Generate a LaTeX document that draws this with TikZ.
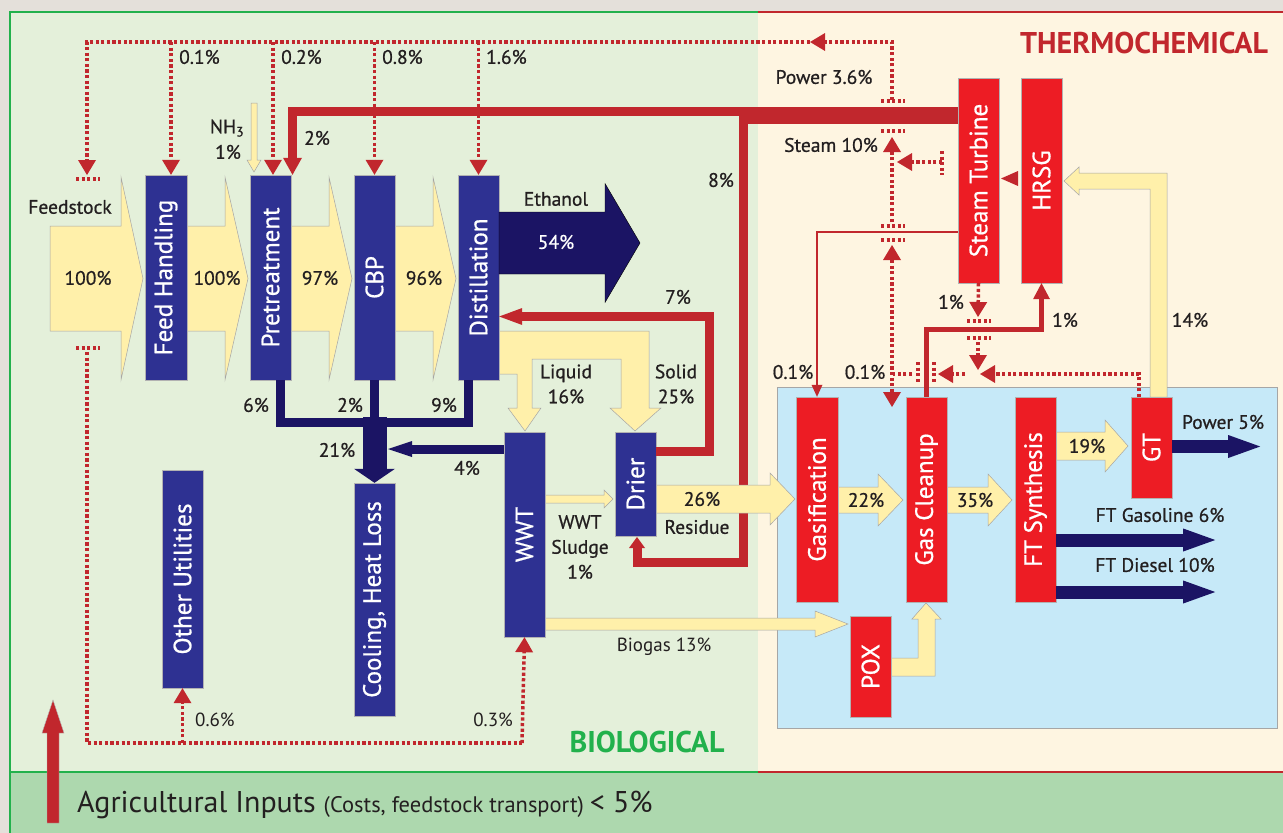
\documentclass[tikz,border=0pt]{standalone}
\usepackage{fontspec}
\setmainfont{PT Sans}
\newfontfamily\semi{PT Sans}[FakeBold=0.7]
\usetikzlibrary{arrows.meta, calc}

\definecolor{outbg}{HTML}{E4E0DA}
\definecolor{biobg}{HTML}{E4F0DA}
\definecolor{thermobg}{HTML}{FEF5E1}
\definecolor{agribg}{HTML}{ADD8AE}
\definecolor{boxblue}{HTML}{C6E9F8}
\definecolor{bioblue}{HTML}{2E3192}
\definecolor{navy}{HTML}{1B1464}
\definecolor{tred}{HTML}{ED1C24}
\definecolor{dred}{HTML}{C1272D}
\definecolor{flowyel}{HTML}{FFF0AA}
\definecolor{biogreen}{HTML}{22B14C}
\definecolor{txt}{HTML}{231F20}

\newcommand{\fs}[1]{\fontsize{#1}{#1}\selectfont}
% horizontal block arrow: x0, x1 (head base), tip, y centre, half body, half head
\newcommand{\flowarrow}[7][flow]{%
  \filldraw[#1] (#2,#5-#6) -- (#3,#5-#6) -- (#3,#5-#7) -- (#4,#5) -- (#3,#5+#7) -- (#3,#5+#6) -- (#2,#5+#6) -- cycle;}

\tikzset{
  dtip/.tip={Triangle[width=18pt,length=15pt,line width=0pt]},
  stip/.tip={Triangle[width=11pt,length=12pt,line width=0pt]}
}

\begin{document}
\begin{tikzpicture}[x=1pt, y=-1pt,
  biobox/.style={fill=bioblue, draw=gray!60, line width=0.4pt, inner sep=0pt, text=white, font=\semi\fs{25}},
  thermobox/.style={biobox, fill=tred},
  flow/.style={fill=flowyel, draw=gray!70, line width=0.5pt},
  lbl/.style={text=txt, font=\semi\fs{19.5}, inner sep=0pt, align=center},
  dotline/.style={dred, line width=3.5pt, dash pattern=on 3.2pt off 2.4pt},
  thickred/.style={dred, line width=9pt},
  navyline/.style={navy, line width=9pt}]
\useasboundingbox (0,0) rectangle (1283,833);

% regions
\fill[outbg] (0,0) rectangle (1283,833);
\fill[biobg] (10,12) rectangle (758,772);
\fill[thermobg] (758,12) rectangle (1283,772);
\fill[agribg] (10,772) rectangle (1283,833);
\draw[biogreen, line width=2.5pt] (10,833) -- (10,12) -- (758,12);
\draw[biogreen, line width=2.5pt] (10,772) -- (758,772);
\draw[dred, line width=2.5pt] (758,12) -- (1283,12);
\draw[dred, line width=2.5pt] (758,772) -- (1283,772);
\filldraw[fill=boxblue, draw=gray!70, line width=0.6pt] (777,387) rectangle (1277,728);

\node[font=\bfseries\fs{30}, text=dred, inner sep=0pt] (thermo) at (1144,43) {THERMOCHEMICAL};
\node[font=\bfseries\fs{30}, text=biogreen, inner sep=0pt] (bio) at (647,742) {BIOLOGICAL};

% yellow flows
\flowarrow{50}{121}{143}{278.5}{52.5}{101.5}
\flowarrow{187}{225}{248}{278.5}{52.5}{101.5}
\flowarrow{291}{329}{352}{278.5}{52.5}{101.5}
\flowarrow{395}{433}{456}{278.5}{52.5}{101.5}
\filldraw[flow] (499,331) -- (649,331) -- (649,408) -- (661,408) -- (635,431) -- (610,408) -- (621,408)
  -- (621,359) -- (532,359) -- (532,408) -- (541,408) -- (525,431) -- (508,408) -- (517,408) -- (517,374) -- (499,374) -- cycle;
\filldraw[flow] (251,103) -- (257,103) -- (257,160) -- (261,160) -- (254,172) -- (247,160) -- (251,160) -- cycle;

% red steam lines
\draw[thickred, -{Triangle[width=16pt,length=11pt,line width=0pt]}] (743.5,111.5) |- (637,562.5) -- (637,537);
\flowarrow{656}{770}{795}{499}{14}{26}
\flowarrow{545}{604}{613}{499}{4}{9}
\flowarrow{545}{815}{848}{624}{6}{13}
\flowarrow{838}{878}{903}{500}{13}{26}
\flowarrow{947}{988}{1012}{500}{13}{26}
\flowarrow{1056}{1105}{1128}{446}{14}{26}
\filldraw[flow] (891,658) -- (918,658) -- (918,619) -- (912,619) -- (926,603) -- (941,619) -- (935,619) -- (935,676) -- (891,676) -- cycle;
\filldraw[flow] (1150,397) -- (1150,189) -- (1079,189) -- (1079,195) -- (1064,181) -- (1079,167) -- (1079,173) -- (1167,173) -- (1167,397) -- cycle;

% blocks
\node[biobox, minimum width=42pt, minimum height=205pt] (feed) at (166,277.5) {\rotatebox{90}{Feed Handling}};
\node[biobox, minimum width=41pt, minimum height=205pt] (pre) at (270.5,277.5) {\rotatebox{90}{Pretreatment}};
\node[biobox, minimum width=41pt, minimum height=205pt] (cbp) at (374.5,277.5) {\rotatebox{90}{CBP}};
\node[biobox, minimum width=41pt, minimum height=205pt] (dist) at (478.5,277.5) {\rotatebox{90}{Distillation}};
\node[biobox, minimum width=41pt, minimum height=205pt] (wwt) at (524.5,534.5) {\rotatebox{90}{WWT}};
\node[biobox, minimum width=41pt, minimum height=104pt] (drier) at (635.5,484) {\rotatebox{90}{Drier}};
\node[biobox, minimum width=41pt, minimum height=233pt] (cool) at (374.5,599.5) {\rotatebox{90}{Cooling, Heat Loss}};
\node[biobox, minimum width=41pt, minimum height=218pt] (other) at (182.5,579) {\rotatebox{90}{Other Utilities}};
\node[thermobox, minimum width=42pt, minimum height=205pt] (gasif) at (817,499.5) {\rotatebox{90}{Gasification}};
\node[thermobox, minimum width=41pt, minimum height=205pt] (clean) at (926.5,499.5) {\rotatebox{90}{Gas Cleanup}};
\node[thermobox, minimum width=41pt, minimum height=205pt] (ftsyn) at (1035.5,499.5) {\rotatebox{90}{FT Synthesis}};
\node[thermobox, minimum width=41pt, minimum height=101pt] (gt) at (1151.5,447.5) {\rotatebox{90}{GT}};
\node[thermobox, minimum width=41pt, minimum height=101pt] (pox) at (870.5,666.5) {\rotatebox{90}{POX}};
\node[thermobox, minimum width=41pt, minimum height=205pt] (steam) at (978.5,180.5) {\rotatebox{90}{Steam Turbine}};
\node[thermobox, minimum width=41pt, minimum height=205pt] (hrsg) at (1041.5,180.5) {\rotatebox{90}{HRSG}};

% ethanol and losses
\flowarrow[fill=navy]{499}{605}{640}{243}{31}{59.5}
\draw[navyline] ([xshift=10pt]pre.south) |- (468.5,422) -- ([xshift=-10pt]dist.south);
\draw[navyline] (cbp.south) -- (374.5,422);
\draw[navy, line width=24pt, -{Triangle[width=41pt,length=14pt,line width=0pt]}] (374.5,417) -- (cool.north);
\coordinate (j4) at (388,449);
\draw[navyline, -{Triangle[width=16pt,length=24pt,line width=0pt]}] ([yshift=85.5pt]wwt.west) -- (j4);
\draw[navy, line width=13pt, -{Triangle[width=23pt,length=32pt,line width=0pt]}] ([yshift=1pt]gt.east) -- ++(88,0);
\draw[navy, line width=13pt, -{Triangle[width=23pt,length=32pt,line width=0pt]}] ([yshift=-40.5pt]ftsyn.east) -- ++(159,0);
\draw[navy, line width=13pt, -{Triangle[width=23pt,length=32pt,line width=0pt]}] ([yshift=-92.5pt]ftsyn.east) -- ++(159,0);

% steam to pretreatment and drier recycle
\fill[dred] (739,107) rectangle (steam.west |- 0,124);
\draw[thickred, -{Triangle[width=19pt,length=17pt,line width=0pt]}] (744,111.5) -| ([xshift=22pt]pre.north);
\coordinate (r7) at (709.5,316.5);
\draw[thickred, -{Triangle[width=17pt,length=23pt,line width=0pt]}] ([yshift=33pt]drier.east) -| (r7) -- (dist.east |- r7);
\draw[dred, line width=2.5pt, -{stip}] ([yshift=-51.5pt]steam.west) -| (gasif.north);
\coordinate (c1) at (1041.5,329);
\draw[dred, line width=5pt, -{Triangle[width=17pt,length=16pt,line width=0pt]}] (clean.north) |- (c1) -- (hrsg.south);
\fill[dred] (1001,178.5) -- (1018,171) -- (1018,186) -- cycle;

% dotted utilities
\draw[dotline, -{dtip}] (892,100) |- (810,42);
\draw[dotline, -{dtip}] (810,42) -| (87,175);
\draw[dotline, -{dtip}] (171,42) -- ([xshift=5pt]feed.north);
\draw[dotline, -{dtip}] (273,42) -- ([xshift=2.5pt]pre.north);
\draw[dotline, -{dtip}] (374.5,42) -- (cbp.north);
\draw[dotline, -{dtip}] (478.5,42) -- (dist.north);
\draw[dotline] (76,179) -- (100,179);
\draw[dotline] (76,348) -- (100,348);
\draw[dotline] (87,352) |- (522,743);
\draw[dotline, -{dtip}] (522,743) -- (wwt.south);
\draw[dotline, -{dtip}] (182.5,743) -- (other.south);
\draw[dotline] (881,101) -- (905,101);
\draw[dotline] (881,131) -- (905,131);
\draw[dotline, -{dtip}] (892,222) -- (892,137);
\draw[dotline] (942,151) -- (942,175);
\draw[dotline, -{dtip}] (942,162) -- (897,162);
\draw[dotline] (881,226) -- (905,226);
\draw[dotline] (881,240) -- (905,240);
\draw[dotline, {dtip}-{dtip}] (892,245) -- (892,407);
\draw[dotline, -{dtip}] (steam.south) -- (978,317);
\draw[dotline] (967,321) -- (991,321);
\draw[dotline] (967,338) -- (991,338);
\draw[dotline, -{dtip}] (978,342) -- (978,370);
\draw[dotline] (1139,397) |- (996,374);
\draw[dotline, -{dtip}] (1000,374) -- (980,374);
\draw[dotline, -{dtip}] (965,374) -- (938,374);
\draw[dotline] (918,362) -- (918,384);
\draw[dotline] (934,362) -- (934,384);
\draw[dotline] (912,374) -- (893,374);

% agricultural inputs
\filldraw[fill=dred, draw=gray!60, line width=0.4pt] (47,823) -- (47,733) -- (42,733) -- (53,700) -- (64,733) -- (59,733) -- (59,823) -- cycle;
\node[anchor=west, text=txt, inner sep=0pt] (agri) at (77,805) {{\fs{30}Agricultural Inputs }{\fs{22.5}(Costs, feedstock transport) }{\fs{30}< 5\%}};

% labels
\node[lbl] (tfeed) at (70,207) {Feedstock};
\node[lbl] (t100a) at (88,278) {100\%};
\node[lbl] (t100b) at (217,278) {100\%};
\node[lbl] (t97) at (320,278) {97\%};
\node[lbl] (t96) at (424,278) {96\%};
\node[lbl, anchor=west] (u1) at (179,57) {0.1\%};
\node[lbl, anchor=west] (u2) at (281,57) {0.2\%};
\node[lbl, anchor=west] (u3) at (382,57) {0.8\%};
\node[lbl, anchor=west] (u4) at (486,57) {1.6\%};
\node[lbl] (tnh) at (227,128) {NH\textsubscript{3}};
\node[lbl] (tnhp) at (228,152) {1\%};
\node[lbl] (t2) at (317,138) {2\%};
\node[lbl] (t8) at (721,180) {8\%};
\node[lbl] (tpow) at (824,77) {Power 3.6\%};
\node[lbl] (tsteam) at (831,145) {Steam 10\%};
\node[lbl] (teth) at (556,199) {Ethanol};
\node[lbl, text=white] (t54) at (556,242) {54\%};
\node[lbl] (t7) at (678,297) {7\%};
\node[lbl, align=center, font=\semi\fontsize{19.5}{25}\selectfont] (tliq) at (566,384) {Liquid\\16\%};
\node[lbl, align=center, font=\semi\fontsize{19.5}{25}\selectfont] (tsol) at (676,384) {Solid\\25\%};
\node[lbl] (t6) at (256,405) {6\%};
\node[lbl] (t2b) at (350,405) {2\%};
\node[lbl] (t9) at (444,405) {9\%};
\node[lbl] (t21) at (337,450) {21\%};
\node[lbl] (t4) at (467,468) {4\%};
\node[lbl] (t26) at (702,499) {26\%};
\node[lbl] (tres) at (697,527) {Residue};
\node[lbl, align=center, font=\semi\fontsize{19.5}{25}\selectfont] (tsludge) at (580,547) {WWT\\Sludge\\1\%};
\node[lbl, font=\fs{19}] (tbiogas) at (664,647) {Biogas 13\%};
\node[lbl, font=\fs{19}, anchor=west] (t06) at (195,720) {0.6\%};
\node[lbl, font=\fs{19}, anchor=east] (t03) at (513,720) {0.3\%};
\node[lbl] (tg1) at (793,372) {0.1\%};
\node[lbl] (tg2) at (865,372) {0.1\%};
\node[lbl] (tst1) at (951,302) {1\%};
\node[lbl] (thr1) at (1065,320) {1\%};
\node[lbl] (t14) at (1190,320) {14\%};
\node[lbl] (t22) at (866,500) {22\%};
\node[lbl] (t35) at (975,500) {35\%};
\node[lbl] (t19) at (1087,446) {19\%};
\node[lbl] (tp5) at (1223,422) {Power 5\%};
\node[lbl] (tgas) at (1160,515) {FT Gasoline 6\%};
\node[lbl] (tdie) at (1155,565) {FT Diesel 10\%};
\end{tikzpicture}
\end{document}
